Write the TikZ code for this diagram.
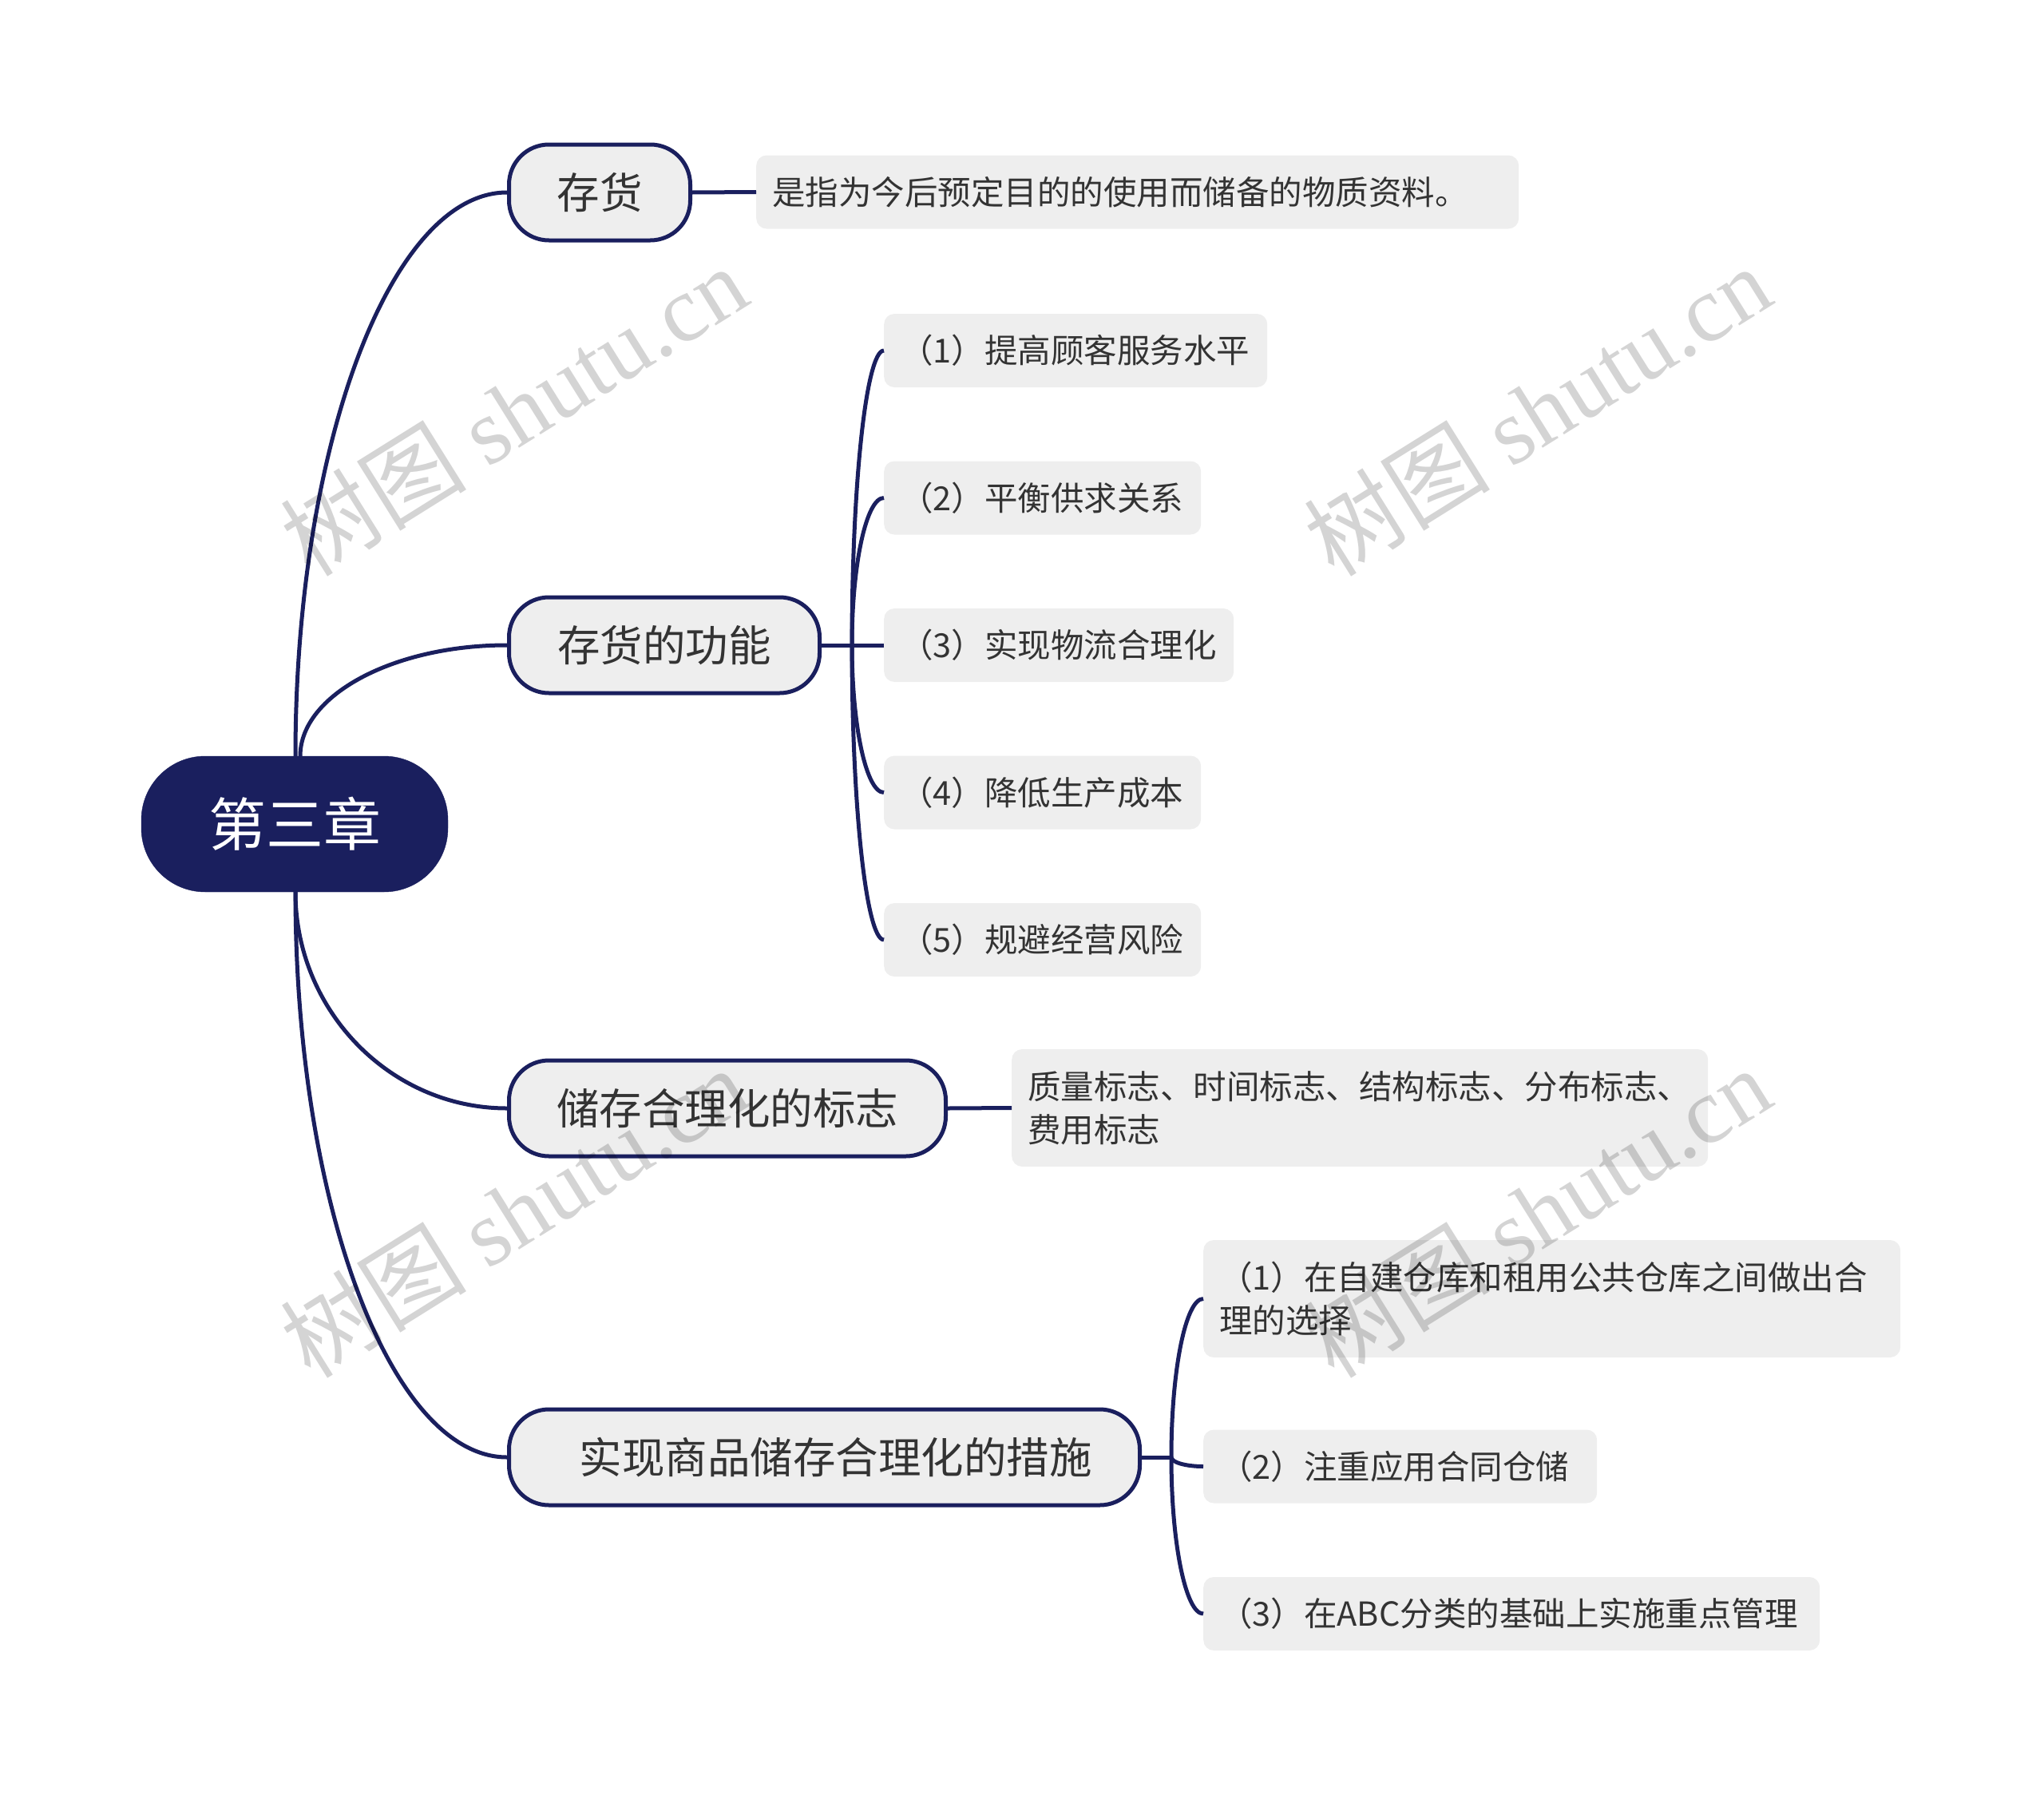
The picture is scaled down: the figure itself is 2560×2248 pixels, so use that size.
\documentclass[tikz,border=0pt]{standalone}
\usepackage{fontspec}
\setmainfont{Noto Sans CJK SC}
\newfontfamily\wmlatin{Liberation Serif}
\usetikzlibrary{calc}
\definecolor{navy}{HTML}{1A1F5E}
\definecolor{boxgray}{HTML}{EEEEEE}
\definecolor{txt}{HTML}{333333}
\begin{document}
\begin{tikzpicture}[x=1pt,y=-1pt,
  rootbox/.style={fill=navy, draw=navy, rounded corners=80pt, minimum width=384pt, minimum height=170pt, inner sep=0pt, text=white, font=\fontsize{72}{86}\selectfont},
  topicbox/.style={fill=boxgray, draw=navy, line width=5pt, rounded corners=50pt, minimum height=120pt, inner sep=0pt, text=txt, font=\fontsize{53.5}{64}\selectfont},
  leafbox/.style={fill=boxgray, rounded corners=13pt, anchor=west, minimum height=92pt, inner xsep=20pt, inner ysep=0pt, align=left, text=txt, font=\fontsize{41.5}{54}\selectfont},
  link/.style={draw=navy, line width=5pt},
  elc/.style 2 args={insert path={(#1) .. controls ($(#1)!0.55!(#1|-#2)$) and ($(#2)!0.55!(#1|-#2)$) .. (#2)}},
  wm/.style={rotate=32, text=black, text opacity=0.17, font=\fontsize{117}{117}\selectfont}
]
\useasboundingbox (0,0) rectangle (2560,2248);

% root
\node[rootbox] (root) at (369,1032) {第三章};

% main topics
\node[topicbox, minimum width=227pt] (a1) at (751,241) {存货};
\node[topicbox, minimum width=389pt] (a2) at (832,808) {存货的功能};
\node[topicbox, minimum width=547pt] (a3) at (911,1388) {储存合理化的标志};
\node[topicbox, minimum width=790pt] (a4) at (1032.5,1825) {\hspace*{28pt}实现商品储存合理化的措施};

% leaves
\node[leafbox, text width=915pt] (b0) at (947,240.5) {是指为今后预定目的的使用而储备的物质资料。};
\node[leafbox, text width=440pt] (c1) at (1107,439) {（1）提高顾客服务水平};
\node[leafbox, text width=357pt] (c2) at (1107,623.5) {（2）平衡供求关系};
\node[leafbox, text width=398pt] (c3) at (1107,808) {（3）实现物流合理化};
\node[leafbox, text width=357pt] (c4) at (1107,992.5) {（4）降低生产成本};
\node[leafbox, text width=357pt] (c5) at (1107,1177) {（5）规避经营风险};
\node[leafbox, text width=832pt, minimum height=147pt] (d0) at (1267,1387.5) {质量标志、时间标志、结构标志、分布标志、\\费用标志};
\node[leafbox, text width=833pt, minimum height=147pt] (e1) at (1507,1626.5) {（1）在自建仓库和租用公共仓库之间做出合\\理的选择};
\node[leafbox, text width=453pt] (e2) at (1507,1836.5) {（2）注重应用合同仓储};
\node[leafbox, text width=732pt] (e3) at (1507,2021) {（3）在ABC分类的基础上实施重点管理};

% connection points
\coordinate (r1) at (370,947);
\coordinate (r2) at (376,947);
\coordinate (r3) at (370,1117);
\coordinate (J1) at (1067,808);
\coordinate (J2) at (1467,1825);

% root to topics
\draw[link, elc={r1}{a1.west}];
\draw[link, elc={r2}{a2.west}];
\draw[link, elc={r3}{a3.west}];
\draw[link, elc={r3}{a4.west}];

% topic to leaves
\draw[link] (a1.east) -- (b0.west);
\draw[link] (a2.east) -- (J1) -- (c3.west);
\draw[link, elc={J1}{c1.west}];
\draw[link, elc={J1}{c2.west}];
\draw[link, elc={J1}{c4.west}];
\draw[link, elc={J1}{c5.west}];
\draw[link] (a3.east) -- (d0.west);
\draw[link] (a4.east) -- (J2);
\draw[link, elc={J2}{e1.west}];
\draw[link, elc={J2}{e2.west}];
\draw[link, elc={J2}{e3.west}];

% watermarks
\node[wm] (w1) at (643,514) {树图 {\wmlatin shutu.cn}};
\node[wm] (w2) at (1925,514) {树图 {\wmlatin shutu.cn}};
\node[wm] (w3) at (643,1518) {树图 {\wmlatin shutu.cn}};
\node[wm] (w4) at (1925,1518) {树图 {\wmlatin shutu.cn}};
\end{tikzpicture}
\end{document}
